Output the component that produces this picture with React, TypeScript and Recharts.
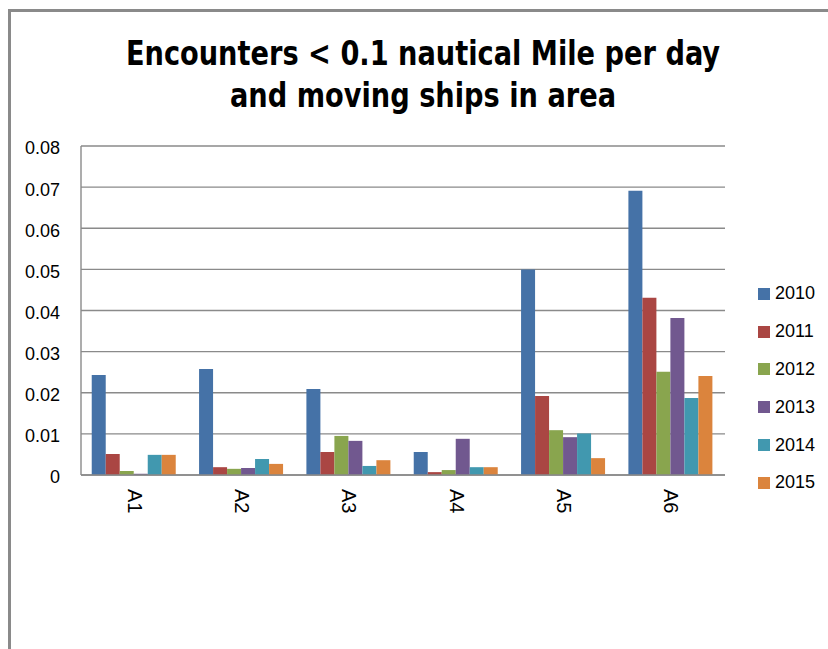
import React from 'react';
import { BarChart, Bar, XAxis, YAxis, CartesianGrid, Legend } from 'recharts';

const categories = ['A1', 'A2', 'A3', 'A4', 'A5', 'A6'];
const years = ['2010', '2011', '2012', '2013', '2014', '2015'];
const colors = ['#4572A7', '#AA4643', '#89A54E', '#71588F', '#4198AF', '#DB843D'];
const v2010 = [0.0243, 0.0258, 0.0209, 0.0056, 0.05, 0.0691];
const v2011 = [0.0051, 0.0019, 0.0056, 0.0007, 0.0192, 0.0431];
const v2012 = [0.001, 0.0015, 0.0095, 0.0012, 0.0109, 0.0251];
const v2013 = [0.0003, 0.0017, 0.0083, 0.0088, 0.0092, 0.0382];
const v2014 = [0.0049, 0.0039, 0.0022, 0.0019, 0.0101, 0.0187];
const v2015 = [0.0049, 0.0027, 0.0036, 0.0019, 0.0041, 0.0241];
const yTicks = [0, 0.01, 0.02, 0.03, 0.04, 0.05, 0.06, 0.07, 0.08];
const titleLines = ['Encounters < 0.1 nautical Mile per day', 'and moving ships in area'];

const seriesValues = [v2010, v2011, v2012, v2013, v2014, v2015];
const data = categories.map((c, i) => {
  const row: Record<string, any> = { name: c };
  years.forEach((y, k) => {
    row[y] = seriesValues[k][i];
  });
  return row;
});

const FONT = '"Liberation Sans", Arial, sans-serif';

const XTick = (props: any) => {
  const { x, y, payload } = props;
  return (
    <text
      x={x}
      y={y}
      transform={`rotate(90 ${x} ${y})`}
      textAnchor="start"
      dominantBaseline="central"
      fontFamily={FONT}
      fontSize={20}
      fill="#000"
    >
      {payload.value}
    </text>
  );
};

const LegendContent = (props: any) => {
  const { payload } = props;
  return (
    <div>
      {(payload || []).map((p: any) => (
        <div
          key={p.value}
          style={{ display: 'flex', alignItems: 'center', height: 37.8, fontFamily: FONT, fontSize: 18, color: '#000' }}
        >
          <div style={{ width: 12, height: 12, background: p.color, marginRight: 5 }} />
          <span>{p.value}</span>
        </div>
      ))}
    </div>
  );
};

export default function App() {
  return (
    <div style={{ position: 'absolute', left: 0, top: 0, width: 828, height: 649, overflow: 'hidden', background: '#fff' }}>
      <div
        style={{
          position: 'absolute',
          left: 8,
          top: 9,
          width: 840,
          height: 660,
          borderLeft: '3px solid #8a8a8a',
          borderTop: '3px solid #8a8a8a',
          boxSizing: 'border-box',
        }}
      />
      {titleLines.map((t, i) => (
        <div
          key={t}
          style={{
            position: 'absolute',
            left: 0,
            width: 846,
            top: 33 + i * 42,
            textAlign: 'center',
            fontFamily: '"Liberation Sans Narrow", "DejaVu Sans Condensed", sans-serif',
            fontWeight: 'bold',
            fontSize: 34,
            lineHeight: '40px',
            color: '#000',
            whiteSpace: 'nowrap',
            transform: 'scaleX(0.89)',
            transformOrigin: '423px 50%',
          }}
        >
          {t}
        </div>
      ))}
      <div style={{ position: 'absolute', left: 0, top: 0 }}>
        <BarChart
          width={828}
          height={649}
          data={data}
          margin={{ top: 146, right: 103, bottom: 114, left: 0 }}
          barCategoryGap="10%"
          barGap={0}
        >
          <CartesianGrid vertical={false} stroke="#8a8a8a" strokeWidth={1.4} />
          <XAxis
            dataKey="name"
            height={60}
            tickLine={false}
            tickSize={0}
            tickMargin={14}
            interval={0}
            tick={<XTick />}
            axisLine={{ stroke: '#8a8a8a', strokeWidth: 1.4 }}
          />
          <YAxis
            width={81}
            domain={[0, 0.08]}
            ticks={yTicks}
            interval={0}
            tickLine={false}
            tickSize={0}
            tickMargin={21}
            tickFormatter={(v: number) => (v === 0 ? '0' : v.toFixed(2))}
            tick={{ fontFamily: FONT, fontSize: 18, fill: '#000', dy: 2 }}
            axisLine={{ stroke: '#8a8a8a', strokeWidth: 1.4 }}
          />
          <Legend
            layout="vertical"
            align="center"
            verticalAlign="middle"
            content={<LegendContent />}
            wrapperStyle={{ left: 758, top: 275, width: 70 }}
          />
          {years.map((y, k) => (
            <Bar key={y} dataKey={y} fill={colors[k]} isAnimationActive={false} />
          ))}
        </BarChart>
      </div>
    </div>
  );
}
